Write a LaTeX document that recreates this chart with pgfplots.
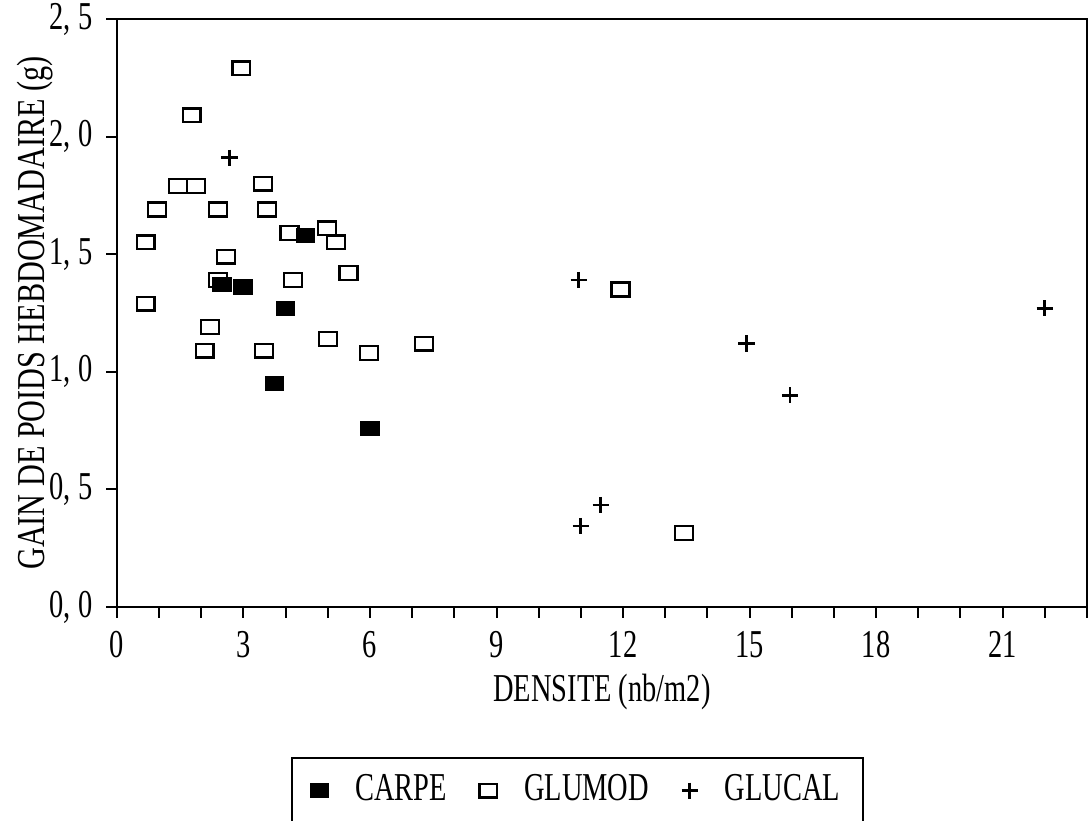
\documentclass[border=0pt]{standalone}
\usepackage{fontspec}
\setmainfont{Liberation Serif}[FakeStretch=0.72]
\newfontfamily\ylfont{Liberation Serif}[FakeStretch=0.765]
\usepackage{pgfplots}
\pgfplotsset{compat=1.18}

% wide rectangles like the original markers
\pgfdeclareplotmark{rect}{%
  \pgfpathrectangle{\pgfpoint{-1.3\pgfplotmarksize}{-\pgfplotmarksize}}%
    {\pgfpoint{2.6\pgfplotmarksize}{2\pgfplotmarksize}}%
  \pgfusepathqstroke}
\pgfdeclareplotmark{rect*}{%
  \pgfpathrectangle{\pgfpoint{-1.3\pgfplotmarksize}{-\pgfplotmarksize}}%
    {\pgfpoint{2.6\pgfplotmarksize}{2\pgfplotmarksize}}%
  \pgfusepathqfillstroke}

\begin{document}
\fontsize{15.5}{18}\selectfont
\begin{tikzpicture}
\begin{axis}[
    scale only axis,
    width=13.38cm, height=8.11cm,
    xmin=0, xmax=23, ymin=0, ymax=2.5,
    axis line style={line width=1pt},
    xtick={0,3,...,21},
    minor xtick={0,...,23},
    ytick={0,0.5,...,2.5},
    yticklabels={{0, 0},{0, 5},{1, 0},{1, 5},{2, 0},{2, 5}},
    xtick pos=left, ytick pos=left,
    tick align=outside,
    major tick length=0.15cm, minor tick length=0.15cm,
    every tick/.style={black, line width=0.8pt},
    /pgf/number format/assume math mode=true,
    xticklabel style={font=\fontsize{15.5}{18}\selectfont},
    yticklabel style={font=\fontsize{15.5}{18}\selectfont},
    xlabel={DENSITE (nb/m2)},
    ylabel={GAIN DE POIDS HEBDOMADAIRE (g)},
    xlabel style={yshift=0.15cm},
    ylabel style={at={(axis description cs:-0.084,0.5)}, anchor=center,
        font=\ylfont\fontsize{15.5}{18}\selectfont},
    legend columns=3,
    legend style={at={(0.475,-0.255)}, anchor=north, draw=black, line width=0.8pt,
        inner xsep=0.25cm, inner ysep=0.16cm,
        /tikz/every odd column/.append style={column sep=0.3cm},
        /tikz/every even column/.append style={column sep=0.38cm},
        font=\fontsize{15.5}{18}\selectfont},
]
\addplot[only marks, mark=rect*, mark size=2.7pt,
    mark options={fill=black, draw=black, line width=0.6pt}] coordinates {
    (2.49,1.37) (2.99,1.36) (4.47,1.58) (3.99,1.27) (3.74,0.95) (6.0,0.76)
};
\addlegendentry{CARPE}
\addplot[only marks, mark=rect, mark size=2.7pt,
    mark options={draw=black, line width=0.9pt}] coordinates {
    (2.95,2.29) (1.77,2.09) (1.45,1.79) (1.88,1.79) (3.46,1.80)
    (0.95,1.69) (2.40,1.69) (3.56,1.69) (4.09,1.59) (4.98,1.61)
    (5.19,1.55) (0.68,1.55) (2.59,1.49) (5.49,1.42) (2.40,1.39)
    (4.17,1.39) (0.68,1.29) (2.20,1.19) (2.08,1.09) (3.48,1.09)
    (5.0,1.14) (5.98,1.08) (7.28,1.12) (11.94,1.35) (13.45,0.315)
};
\addlegendentry{GLUMOD}
\addplot[only marks, mark=+, mark size=3.2pt,
    mark options={draw=black, line width=1.1pt}] coordinates {
    (2.67,1.91) (10.95,1.39) (14.93,1.12) (15.96,0.90) (22.0,1.27)
    (11.47,0.434) (11.0,0.344)
};
\addlegendentry{GLUCAL}
\end{axis}
\pgfresetboundingbox
\path (current axis.south west) ++(-1.613cm,-2.951cm) coordinate (bl);
\path (current axis.north east) ++(0.014cm,0.262cm) coordinate (tr);
\path[use as bounding box] (bl) rectangle (tr);
\end{tikzpicture}
\end{document}
